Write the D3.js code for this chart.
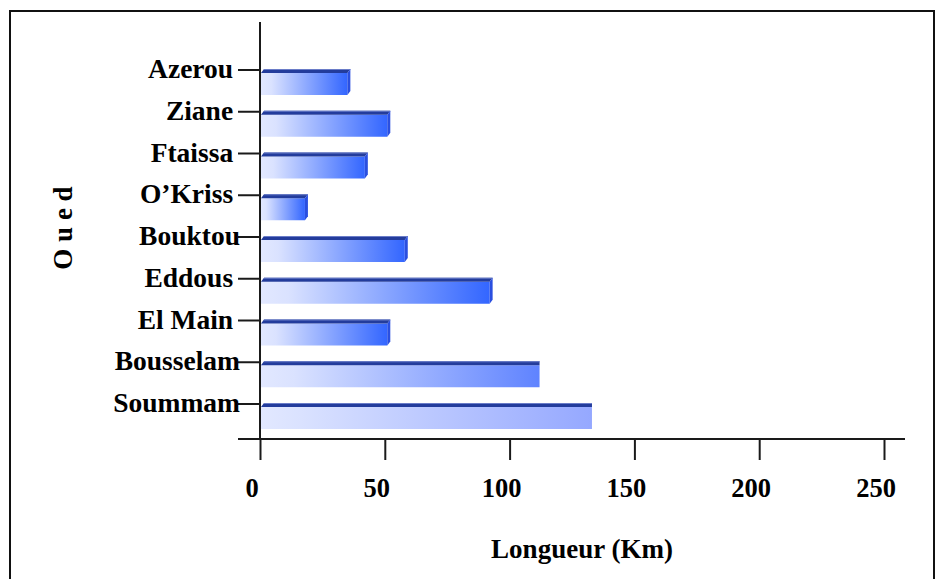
<!DOCTYPE html>
<html>
<head>
<meta charset="utf-8">
<script src="https://cdn.jsdelivr.net/npm/d3@7"></script>
<style>
  html, body { margin: 0; padding: 0; background: #fff; }
  svg { display: block; }
  text { font-family: "Liberation Serif", "Times New Roman", serif; font-weight: bold; fill: #000; white-space: pre; }
</style>
</head>
<body>
<svg id="chart" width="936" height="579"></svg>
<script>
// Rivers (oueds) and their lengths in km
const oueds = ["Azerou ", "Ziane ", "Ftaissa ", "O\u2019Kriss ", "Bouktou", "Eddous ", "El Main ", "Bousselam", "Soummam"];
const longueurs = [35, 51, 42, 18, 58, 92, 51, 112, 133];
const xTicks = [0, 50, 100, 150, 200, 250];
const xTitle = "Longueur (Km)";
const yTitle = "O u e d";

const svg = d3.select("#chart");

// outer frame
svg.append("rect")
  .attr("x", 10).attr("y", 11).attr("width", 924).attr("height", 640)
  .attr("fill", "none").attr("stroke", "#111").attr("stroke-width", 2);

const x = d3.scaleLinear().domain([0, 250]).range([260, 884]);
const y = d3.scaleBand().domain(oueds).range([69, 69 + 9 * 41.75]).padding(0);

const stripH = 4, bodyH = 22, depth = 3;

// bar end colour: long bars fade towards a lighter blue
const endColor = d3.scaleLinear().domain([95, 135]).range(["#3366ff", "#9aabff"]).clamp(true);
const sideShow = d3.scaleLinear().domain([100, 110]).range([1, 0]).clamp(true);

const defs = svg.append("defs");
oueds.forEach((name, i) => {
  const g = defs.append("linearGradient")
    .attr("id", "grad" + i)
    .attr("x1", 0).attr("x2", 1).attr("y1", 0).attr("y2", 0);
  g.append("stop").attr("offset", 0).attr("stop-color", "#e2e8ff");
  g.append("stop").attr("offset", 0.12).attr("stop-color", "#dae2ff");
  g.append("stop").attr("offset", 1).attr("stop-color", endColor(longueurs[i]));
});

const data = oueds.map((name, i) => ({ name, value: longueurs[i], i }));

const bars = svg.append("g").selectAll("g").data(data).join("g");

// front face
bars.append("rect")
  .attr("x", x(0) + 1)
  .attr("y", d => y(d.name) + stripH)
  .attr("width", d => x(d.value) - x(0) - 1)
  .attr("height", bodyH)
  .attr("fill", d => `url(#grad${d.i})`);

// top face
bars.append("polygon")
  .attr("points", d => {
    const t = y(d.name), x0 = x(0) + 1, xe = x(d.value), dx = depth * sideShow(d.value);
    return [[x0, t + stripH], [x0 + depth, t], [xe + dx, t], [xe, t + stripH]].join(" ");
  })
  .attr("fill", "#233c9c");
bars.append("line")
  .attr("x1", x(0) + 1 + depth)
  .attr("x2", d => x(d.value) + depth * sideShow(d.value))
  .attr("y1", d => y(d.name) + 0.5)
  .attr("y2", d => y(d.name) + 0.5)
  .attr("stroke", "#6a7cc8").attr("stroke-width", 1);

// side face
bars.append("polygon")
  .attr("points", d => {
    const t = y(d.name), xe = x(d.value);
    return [[xe, t + stripH], [xe + depth, t], [xe + depth, t + bodyH], [xe, t + stripH + bodyH]].join(" ");
  })
  .attr("fill", "#2a4fe0")
  .attr("opacity", d => sideShow(d.value));

// category axis
const axisColor = "#1a1a1a";
svg.append("line")
  .attr("x1", x(0)).attr("x2", x(0)).attr("y1", 22).attr("y2", 439)
  .attr("stroke", axisColor).attr("stroke-width", 2);
svg.append("g").selectAll("line").data(oueds).join("line")
  .attr("x1", 238).attr("x2", x(0))
  .attr("y1", d => y(d) + 1).attr("y2", d => y(d) + 1)
  .attr("stroke", axisColor).attr("stroke-width", 2);
svg.append("g").selectAll("text").data(oueds).join("text")
  .attr("x", 240)
  .attr("y", d => y(d) + 9)
  .attr("text-anchor", "end")
  .attr("font-size", 27.5)
  .text(d => d);

// value axis
const xAxis = d3.axisBottom(x).tickValues(xTicks).tickSize(21).tickSizeOuter(0).tickFormat("");
const gx = svg.append("g").attr("transform", "translate(0,439)").call(xAxis);
gx.select(".domain").remove();
gx.selectAll(".tick line").attr("stroke", axisColor).attr("stroke-width", 2);
svg.append("line")
  .attr("x1", 238).attr("x2", 905).attr("y1", 439).attr("y2", 439)
  .attr("stroke", axisColor).attr("stroke-width", 2);
svg.append("g").selectAll("text").data(xTicks).join("text")
  .attr("x", d => x(d) - 8)
  .attr("y", 497)
  .attr("text-anchor", "middle")
  .attr("font-size", 26.5)
  .text(d => d);

// axis titles
svg.append("text")
  .attr("x", 582).attr("y", 558)
  .attr("text-anchor", "middle")
  .attr("font-size", 27)
  .text(xTitle);
svg.append("text")
  .attr("transform", "translate(72,228) rotate(-90)")
  .attr("text-anchor", "middle")
  .attr("font-size", 27)
  .text(yTitle);
</script>
</body>
</html>
